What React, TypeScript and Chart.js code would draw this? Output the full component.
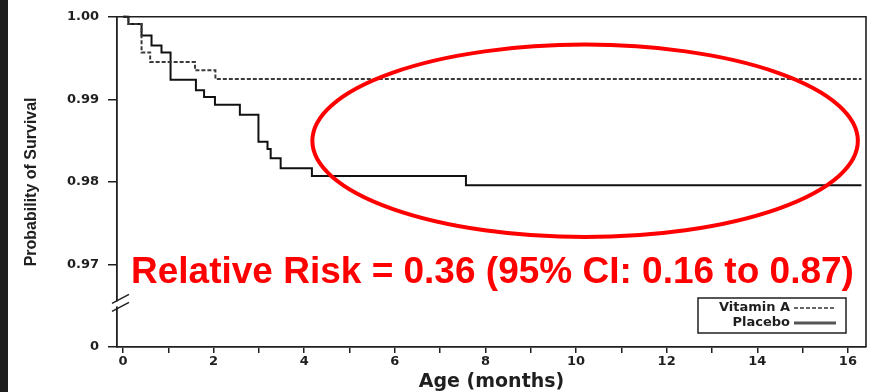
import React, { useEffect, useRef } from "react";
import { Chart, registerables } from "chart.js";

Chart.register(...registerables);

// ---- data ----
const seriesLabels = ["Vitamin A", "Placebo"];
const vitaminTimes = [0, 0.12, 0.41, 0.6, 1.59, 2.04, 16.3];
const vitaminSurvival = [1.0, 0.99912, 0.99568, 0.99451, 0.99351, 0.99247, 0.99247];
const placeboTimes = [0, 0.12, 0.41, 0.63, 0.85, 1.05, 1.61, 1.79, 2.03, 2.58, 2.99, 3.19, 3.26, 3.48, 4.17, 7.57, 16.3];
const placeboSurvival = [1.0, 0.99912, 0.99772, 0.99652, 0.99568, 0.99237, 0.99111, 0.99027, 0.98935, 0.98814, 0.98486, 0.98399, 0.98286, 0.98166, 0.98072, 0.97958, 0.97958];

const xTickValues = [0, 1, 2, 3, 4, 5, 6, 7, 8, 9, 10, 11, 12, 13, 14, 15, 16];
const xTickLabels = ["0", "", "2", "", "4", "", "6", "", "8", "", "10", "", "12", "", "14", "", "16"];
const yTickValues = [0.96, 0.97, 0.98, 0.99, 1.0];
const yTickLabels = ["0", "0.97", "0.98", "0.99", "1.00"];

const xAxisTitle = "Age (months)";
const yAxisTitle = "Probability of Survival";
const riskText = "Relative Risk = 0.36 (95% CI: 0.16 to 0.87)";

// highlighted region (ellipse) in data units
const ellipseCenter = [10.2, 0.98498];
const ellipseRadius = [6.02, 0.01165];
const axisBreakValue = 0.9654;

const X_MIN = -0.132;
const X_MAX = 16.4;
const Y_MIN = 0.96;
const Y_MAX = 1.0;

const INK = "#1f1f1f";

const toPoints = (xs: number[], ys: number[]) => xs.map((x, i) => ({ x, y: ys[i] }));

const decorPlugin = {
  id: "decor",
  beforeDraw(chart: any) {
    const { ctx, width, height } = chart;
    ctx.save();
    ctx.fillStyle = "#ffffff";
    ctx.fillRect(0, 0, width, height);
    ctx.fillStyle = "#1e1e1e";
    ctx.fillRect(0, 0, 8, height);
    ctx.restore();
  },
  afterDatasetsDraw(chart: any) {
    const { ctx, chartArea: ca, scales } = chart;
    const x = scales.x;
    const y = scales.y;
    ctx.save();

    // frame: top and right
    ctx.strokeStyle = INK;
    ctx.lineWidth = 1.6;
    ctx.beginPath();
    ctx.moveTo(ca.left, ca.top);
    ctx.lineTo(ca.right, ca.top);
    ctx.lineTo(ca.right, ca.bottom);
    ctx.stroke();

    // axis break
    const by = y.getPixelForValue(axisBreakValue);
    ctx.fillStyle = "#ffffff";
    ctx.fillRect(ca.left - 2, by - 1, 4, 5);
    ctx.beginPath();
    ctx.moveTo(ca.left - 5, by + 1);
    ctx.lineTo(ca.left + 12, by - 8);
    ctx.moveTo(ca.left - 5, by + 9);
    ctx.lineTo(ca.left + 12, by);
    ctx.lineWidth = 1.5;
    ctx.strokeStyle = INK;
    ctx.stroke();

    // legend
    const ds = chart.data.datasets;
    const bx = ca.right - 168;
    const bt = ca.bottom - 49;
    const bw = 148;
    const bh = 35;
    ctx.lineWidth = 1.5;
    ctx.strokeStyle = INK;
    ctx.strokeRect(bx, bt, bw, bh);
    ctx.font = "bold 13px 'DejaVu Sans'";
    ctx.fillStyle = INK;
    ctx.textAlign = "right";
    ctx.textBaseline = "middle";
    const rows = [bt + 10, bt + 25];
    ds.forEach((d: any, i: number) => {
      ctx.fillText(d.label, bx + 92, rows[i]);
      ctx.beginPath();
      ctx.setLineDash(d.borderDash || []);
      ctx.lineWidth = i === 0 ? 1.5 : 3;
      ctx.strokeStyle = i === 0 ? "#333" : "#555";
      ctx.moveTo(bx + 96, rows[i]);
      ctx.lineTo(bx + 138, rows[i]);
      ctx.stroke();
      ctx.setLineDash([]);
    });

    // red ellipse
    const cx = x.getPixelForValue(ellipseCenter[0]);
    const cy = y.getPixelForValue(ellipseCenter[1]);
    const rx = x.getPixelForValue(ellipseCenter[0] + ellipseRadius[0]) - cx;
    const ry = cy - y.getPixelForValue(ellipseCenter[1] + ellipseRadius[1]);
    ctx.beginPath();
    ctx.ellipse(cx, cy, rx, ry, 0, 0, Math.PI * 2);
    ctx.strokeStyle = "#ff0000";
    ctx.lineWidth = 4;
    ctx.stroke();

    // red annotation text
    ctx.font = "bold 37px 'Liberation Sans'";
    ctx.fillStyle = "#ff0000";
    ctx.textAlign = "left";
    ctx.textBaseline = "alphabetic";
    ctx.fillText(riskText, ca.left + 14, ca.top + 266);

    ctx.restore();
  },
};

export default function App() {
  const canvasRef = useRef<HTMLCanvasElement | null>(null);

  useEffect(() => {
    document.body.style.margin = "0";
    const canvas = canvasRef.current;
    if (!canvas) return;
    const chart = new Chart(canvas, {
      type: "line",
      data: {
        datasets: [
          {
            label: seriesLabels[0],
            data: toPoints(vitaminTimes, vitaminSurvival),
            stepped: "before",
            borderColor: "#3a3a3a",
            borderWidth: 2,
            borderDash: [4, 2],
            pointRadius: 0,
            fill: false,
            clip: 4,
          },
          {
            label: seriesLabels[1],
            data: toPoints(placeboTimes, placeboSurvival),
            stepped: "before",
            borderColor: "#111111",
            borderWidth: 2,
            pointRadius: 0,
            fill: false,
            clip: 4,
          },
        ],
      },
      options: {
        animation: false,
        responsive: false,
        devicePixelRatio: 1,
        parsing: false,
        layout: { padding: { left: 0, top: 14, right: 8, bottom: 0 } },
        plugins: {
          legend: { display: false },
          tooltip: { enabled: false },
        },
        scales: {
          x: {
            type: "linear",
            min: X_MIN,
            max: X_MAX,
            afterBuildTicks: (s: any) => {
              s.ticks = xTickValues.map((v) => ({ value: v }));
            },
            afterFit: (s: any) => {
              s.height = 45;
            },
            grid: { drawOnChartArea: false, drawTicks: true, tickLength: 6, color: INK, lineWidth: 1.5 },
            border: { display: true, color: INK, width: 1.8 },
            ticks: {
              autoSkip: false,
              maxRotation: 0,
              padding: 1,
              color: INK,
              font: { family: "DejaVu Sans", size: 13, weight: "bold" },
              callback: (v: any) => {
                const i = xTickValues.findIndex((t) => Math.abs(t - Number(v)) < 1e-6);
                return i >= 0 ? xTickLabels[i] : "";
              },
            },
            title: {
              display: true,
              text: xAxisTitle,
              color: INK,
              font: { family: "DejaVu Sans", size: 19, weight: "bold" },
              padding: { top: 0, bottom: -1 },
            },
          },
          y: {
            type: "linear",
            min: Y_MIN,
            max: Y_MAX,
            afterBuildTicks: (s: any) => {
              s.ticks = yTickValues.map((v) => ({ value: v }));
            },
            afterFit: (s: any) => {
              s.width = 117;
            },
            grid: { drawOnChartArea: false, drawTicks: true, tickLength: 9, color: INK, lineWidth: 1.5 },
            border: { display: true, color: INK, width: 1.8 },
            ticks: {
              padding: 9,
              color: INK,
              font: { family: "DejaVu Sans", size: 13, weight: "bold" },
              callback: (v: any) => {
                const i = yTickValues.findIndex((t) => Math.abs(t - Number(v)) < 1e-6);
                return i >= 0 ? yTickLabels[i] : "";
              },
            },
            title: {
              display: true,
              text: yAxisTitle,
              color: INK,
              font: { family: "Liberation Sans", size: 16, weight: "bold" },
              padding: { top: 22, bottom: 0 },
            },
          },
        },
      },
      plugins: [decorPlugin],
    } as any);
    return () => chart.destroy();
  }, []);

  return (
    <div style={{ position: "fixed", left: 0, top: 0, width: 874, height: 392, background: "#fff" }}>
      <canvas ref={canvasRef} width={874} height={392} style={{ display: "block" }} />
    </div>
  );
}
